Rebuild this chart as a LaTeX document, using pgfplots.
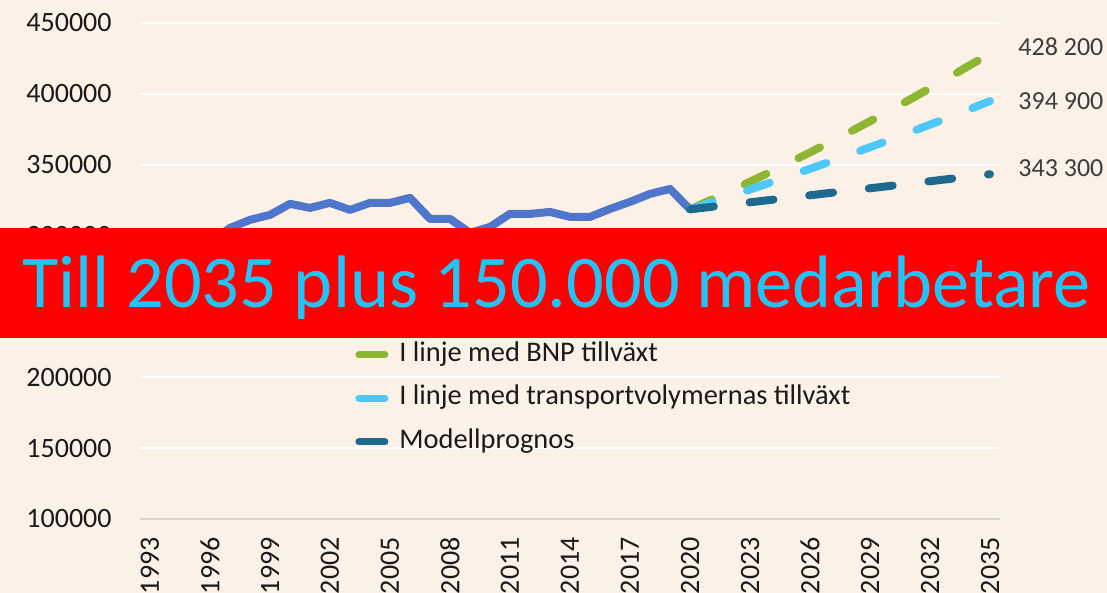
\documentclass[border=0pt]{standalone}
\usepackage{pgfplots}
\pgfplotsset{compat=1.18}
\usepackage{fontspec}
\setmainfont{Carlito}
\definecolor{bg}{HTML}{FCF1E7}
\definecolor{histc}{HTML}{4F76CD}
\definecolor{greenc}{HTML}{8DB733}
\definecolor{lbluec}{HTML}{4CC8FB}
\definecolor{darkc}{HTML}{1D6A8E}
\definecolor{tickc}{HTML}{1A1A1A}
\definecolor{labc}{HTML}{3C3C3C}
\definecolor{axc}{HTML}{D8D8D8}
\definecolor{bannertext}{HTML}{20C4F8}
\begin{document}
\begin{tikzpicture}
\useasboundingbox (0,0) rectangle (553.5pt,296.5pt);
\fill[bg] (0,0) rectangle (553.5pt,296.5pt);
\begin{scope}
\clip (0,0) rectangle (553.5pt,296.5pt);
\begin{axis}[
  at={(70pt,37pt)}, anchor=south west,
  scale only axis, width=430pt, height=248pt,
  xmin=1992.5, xmax=2035.5, ymin=100000, ymax=450000,
  clip=false,
  scaled y ticks=false, scaled x ticks=false,
  axis line style={draw=none},
  major tick length=0pt,
  ytick={100000,150000,200000,250000,300000,350000,400000,450000},
  yticklabels={100000,150000,200000,250000,300000,350000,400000,450000},
  xtick={1993,1996,1999,2002,2005,2008,2011,2014,2017,2020,2023,2026,2029,2032,2035},
  xticklabels={1993,1996,1999,2002,2005,2008,2011,2014,2017,2020,2023,2026,2029,2032,2035},
  ymajorgrids, grid style={white, line width=1.2pt},
  tick label style={font=\fontsize{14}{16}\selectfont, text=tickc, inner sep=0pt},
  yticklabel style={anchor=east},
  yticklabel shift=14pt,
  xticklabel style={rotate=90, anchor=east},
  xticklabel shift=9pt,
  legend image code/.code={\draw[#1, solid, line width=3.5pt, line cap=round] (1.75pt,0pt) -- (14.75pt,0pt);},
  legend style={at={(0.25,0.357)}, anchor=north west, draw=none, fill=none,
    font=\fontsize{14.2}{16}\selectfont, text=tickc, inner sep=0pt,
    row sep=9.25pt, column sep=5.5pt, nodes={inner sep=0pt, text height=9.5pt, text depth=3pt}},
  legend cell align=left,
]
\draw[axc, line width=0.8pt] (axis cs:1992.5,100000) -- (axis cs:2035.5,100000);
\addplot[histc, line width=4pt, line join=round, forget plot] coordinates {
(1993,283000) (1994,281000) (1995,287000) (1996,295000) (1997,305400)
(1998,311100) (1999,314600) (2000,322400) (2001,319500) (2002,323100)
(2003,318100) (2004,323100) (2005,323100) (2006,326600) (2007,311800)
(2008,311800) (2009,301900) (2010,306100) (2011,315300) (2012,315300)
(2013,316700) (2014,313200) (2015,313200) (2016,318800) (2017,323800)
(2018,329400) (2019,332900) (2020,318500)};
\addplot[greenc, line width=4pt, line cap=round, dash pattern=on 12pt off 18pt] coordinates {
(2020,318500) (2021,324870) (2022,331370) (2023,338000) (2024,344760)
(2025,351660) (2026,358700) (2027,365870) (2028,373190) (2029,380660)
(2030,388270) (2031,396040) (2032,403960) (2033,412040) (2034,420280) (2035,428200)};
\addlegendentry{I linje med BNP tillväxt}
\addplot[lbluec, line width=4pt, line cap=round, dash pattern=on 12pt off 18pt] coordinates {
(2020,318500) (2021,323098) (2022,327763) (2023,332495) (2024,337295)
(2025,342165) (2026,347105) (2027,352116) (2028,357200) (2029,362357)
(2030,367588) (2031,372895) (2032,378279) (2033,383740) (2034,389280) (2035,394900)};
\addlegendentry{I linje med transportvolymernas tillväxt}
\addplot[darkc, line width=4pt, line cap=round, dash pattern=on 12pt off 18pt] coordinates {
(2020,318500) (2021,320153) (2022,321807) (2023,323460) (2024,325113)
(2025,326767) (2026,328420) (2027,330073) (2028,331727) (2029,333380)
(2030,335033) (2031,336687) (2032,338340) (2033,339993) (2034,341647) (2035,343300)};
\addlegendentry{Modellprognos}
\node[anchor=west, text=labc, font=\fontsize{13}{15}\selectfont, inner sep=0pt] at (axis cs:2036.4,433075) {428 200};
\node[anchor=west, text=labc, font=\fontsize{13}{15}\selectfont, inner sep=0pt] at (axis cs:2036.4,395000) {394 900};
\node[anchor=west, text=labc, font=\fontsize{13}{15}\selectfont, inner sep=0pt] at (axis cs:2036.4,347750) {343 300};
\end{axis}
\fill[red] (0,127.5pt) rectangle (553.5pt,182.5pt);
\node[anchor=base west, inner sep=0pt, text=bannertext] at (11pt,142.5pt) {\resizebox{534pt}{!}{Till 2035 plus 150.000 medarbetare}};
\end{scope}
\end{tikzpicture}
\end{document}
